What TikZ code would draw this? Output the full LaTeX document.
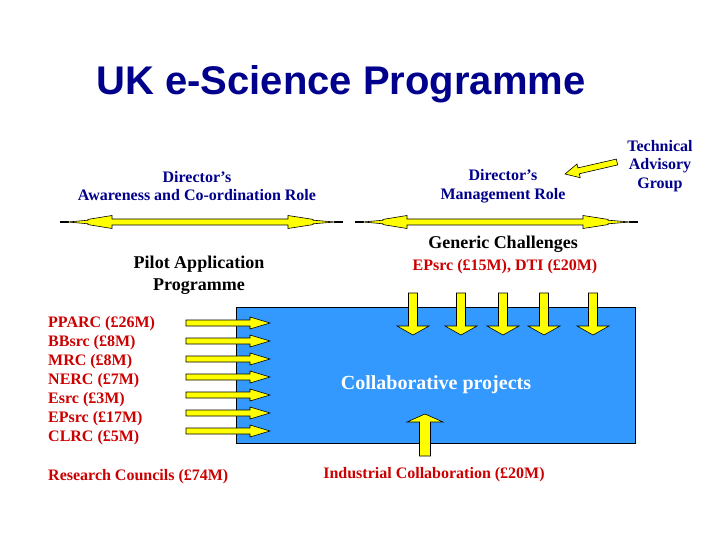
\documentclass[tikz,border=0pt]{standalone}
\usepackage{fontspec}
\setmainfont{Liberation Serif}
\newfontfamily\arialf{Liberation Sans}
\definecolor{navy}{RGB}{0,0,140}
\definecolor{dred}{RGB}{204,0,0}
\definecolor{boxblue}{RGB}{51,153,255}
\definecolor{ayellow}{RGB}{255,255,0}
\tikzset{
  ylw/.style={fill=ayellow, draw=black, line width=0.6pt, line join=miter},
  lbl/.style={inner sep=0pt, font=\bfseries\fontsize{16}{18.5}\selectfont, align=center},
  biglbl/.style={inner sep=0pt, font=\bfseries\fontsize{18}{22}\selectfont, align=center},
  tip/.style={line width=1.2pt}
}
\newcommand\dblarr[3]{%
  \draw[tip] (#1,#3) -- ({#1+9},#3);
  \draw[tip] ({#2-9},#3) -- (#2,#3);
  \draw[ylw] ({#1+8},#3) -- ({#1+28},{#3-1.8}) -- ({#1+28},{#3-2.6}) -- ({#1+52},{#3-6.5}) -- ({#1+52},{#3-3}) -- ({#2-55},{#3-3}) -- ({#2-55},{#3-6.5}) -- ({#2-30},{#3-2.6}) -- ({#2-30},{#3-1.8}) -- ({#2-8},#3) -- ({#2-30},{#3+1.8}) -- ({#2-30},{#3+2.6}) -- ({#2-55},{#3+6.5}) -- ({#2-55},{#3+3}) -- ({#1+52},{#3+3}) -- ({#1+52},{#3+6.5}) -- ({#1+28},{#3+2.6}) -- ({#1+28},{#3+1.8}) -- cycle;}
\newcommand\rarr[1]{%
  \draw[ylw] (186,{#1-3}) -- (250,{#1-3}) -- (250,{#1-6}) -- (270,#1) -- (250,{#1+6}) -- (250,{#1+3}) -- (186,{#1+3}) -- cycle;}
\newcommand\darr[1]{%
  \draw[ylw] ({#1-4.5},293) -- ({#1+4.5},293) -- ({#1+4.5},326) -- ({#1+16},326) -- (#1,335) -- ({#1-16},326) -- ({#1-4.5},326) -- cycle;}
\begin{document}
\begin{tikzpicture}[x=1pt,y=-1pt]
\useasboundingbox (0,0) rectangle (720,540);
\fill[white] (0,0) rectangle (720,540);

% title
\node[inner sep=0pt, text=navy, font=\arialf\bfseries\fontsize{40}{44}\selectfont] (title) at (341,84) {UK e-Science Programme};

% director roles
\node[lbl, text=navy] (dir1) at (197,186) {Director’s\\Awareness and Co-ordination Role};
\node[lbl, text=navy] (dir2) at (503,186) {Director’s\\Management Role};
\node[lbl, text=navy] (tag) at (660,166) {Technical\\Advisory\\Group};

% double arrows
\dblarr{60}{343}{222}
\dblarr{355}{638}{222}

% TAG arrow
\draw[ylw] (616.3,159.1) -- (577.9,167.9) -- (577.0,164.0) -- (565,174) -- (580.2,177.7) -- (579.3,173.8) -- (617.7,164.9) -- cycle;

% labels
\node[biglbl] (pilot) at (199,275) {Pilot Application\\Programme};
\node[biglbl] (gen) at (503,244) {Generic Challenges};
\node[lbl, text=dred] (eps) at (505,267) {EPsrc (£15M), DTI (£20M)};

% box
\node[draw=black, line width=0.6pt, fill=boxblue, minimum width=399pt, minimum height=136pt, inner sep=0pt] (box) at (436,375) {};
\node[inner sep=0pt, text=white, font=\bfseries\fontsize{20}{24}\selectfont] (collab) at (436,385) {Collaborative projects};

% research councils
\node[inner sep=0pt, anchor=west, text=dred, align=left, font=\bfseries\fontsize{16}{19}\selectfont] (rcl) at (48,381) {PPARC (£26M)\\BBsrc (£8M)\\MRC (£8M)\\NERC (£7M)\\Esrc (£3M)\\EPsrc (£17M)\\CLRC (£5M)};
\foreach \yy in {323,341,359,377,395,413,431} {\rarr{\yy}}

% generic challenge arrows
\foreach \xx in {413,461,503,544,593} {\darr{\xx}}

% industrial arrow
\draw[ylw] (419.5,456) -- (430.5,456) -- (430.5,422) -- (443,422) -- (425,414) -- (407,422) -- (419.5,422) -- cycle;

\node[lbl, anchor=west, text=dred] (rc) at (48,477) {Research Councils (£74M)};
\node[lbl, text=dred] (ind) at (434,475) {Industrial Collaboration (£20M)};
\end{tikzpicture}
\end{document}
